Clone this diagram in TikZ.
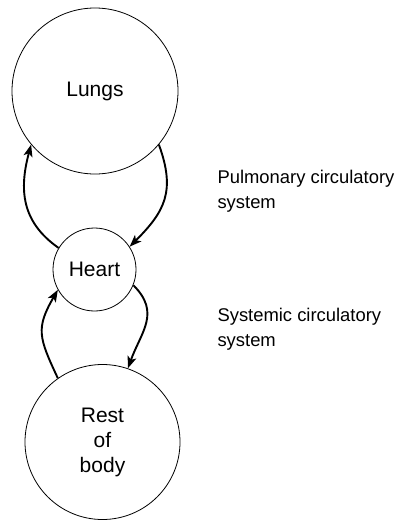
\documentclass[tikz,border=0pt]{standalone}
\usepackage{fontspec}
\setmainfont{Liberation Sans}
\usetikzlibrary{arrows.meta}
\begin{document}
\begin{tikzpicture}[x=1pt, y=-1pt,
  organ/.style={draw, circle, line width=0.8pt, inner sep=0pt, font=\fontsize{21}{25}\selectfont, align=center},
  flow/.style={arrows={-Stealth[length=12pt, width=9pt, inset=3pt]}, line width=1.9pt},
  note/.style={anchor=west, align=left, font=\fontsize{18.4}{25}\selectfont}]
\useasboundingbox (0,0) rectangle (404,527);
\node (lungs)[organ, minimum size=166pt] at (95,91) {Lungs};
\node (heart)[organ, minimum size=83pt] at (94.5,269.5) {Heart};
\node (rest)[organ, minimum size=155pt] at (102.5,442) {Rest\\of\\body};
\node (pulm)[note] at (214,191) {Pulmonary circulatory\\system};
\node (syst)[note] at (214,329) {Systemic circulatory\\system};
\draw[flow] (heart.149) to[out=145, in=-105, looseness=1.1] (lungs.220);
\draw[flow] (lungs.320) to[out=-70, in=45, looseness=1.2] (heart.33);
\draw[flow] (heart.-22) to[out=-45, in=70, looseness=1.2] (rest.71);
\draw[flow] (rest.125) to[out=115, in=-120, looseness=1.3] (heart.209);
\end{tikzpicture}
\end{document}
